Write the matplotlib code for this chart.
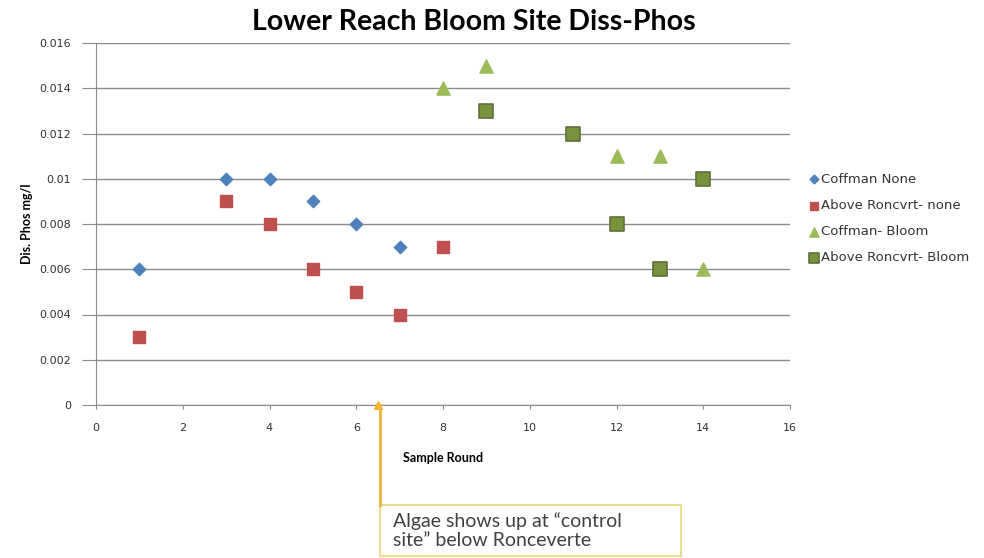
import matplotlib
matplotlib.use('Agg')
import matplotlib.pyplot as plt
from matplotlib.patches import Rectangle
from matplotlib.lines import Line2D

# --- dados ---
coff_none_x = [1, 3, 4, 5, 6, 7]
coff_none_y = [0.006, 0.010, 0.010, 0.009, 0.008, 0.007]
above_none_x = [1, 3, 4, 5, 6, 7, 8]
above_none_y = [0.003, 0.009, 0.008, 0.006, 0.005, 0.004, 0.007]
coff_bloom_x = [8, 9, 12, 13, 14]
coff_bloom_y = [0.014, 0.015, 0.011, 0.011, 0.006]
above_bloom_x = [9, 11, 12, 13, 14]
above_bloom_y = [0.013, 0.012, 0.008, 0.006, 0.010]
algae_round = 6.5
note = "Algae shows up at \u201ccontrol\nsite\u201d below Ronceverte"

W, H = 984, 558
fig = plt.figure(figsize=(W / 100, H / 100), dpi=100)
ax = fig.add_axes([96 / W, 1 - 405 / H, (790 - 96) / W, (405 - 43) / H])

ax.scatter(coff_none_x, coff_none_y, marker='D', s=40, color='#4F81BD', zorder=3, label='Coffman None')
ax.scatter(above_none_x, above_none_y, marker='s', s=80, color='#C0504D', zorder=3, label='Above Roncvrt- none')
ax.scatter(coff_bloom_x, coff_bloom_y, marker='^', s=90, color='#9BBB59', zorder=3, label='Coffman- Bloom')
ax.scatter(above_bloom_x, above_bloom_y, marker='s', s=110, color='#77933C', edgecolor='#5E6E3A', linewidth=1.2, zorder=3, label='Above Roncvrt- Bloom')

ax.set_xlim(0, 16)
ax.set_ylim(0, 0.016)
ax.set_xticks(range(0, 17, 2))
ax.set_yticks([i * 0.002 for i in range(9)])
ax.set_yticklabels(['0', '0.002', '0.004', '0.006', '0.008', '0.01', '0.012', '0.014', '0.016'])
ax.grid(axis='y', color='#8c8c8c', linewidth=1)
ax.grid(axis='x', visible=False)
ax.set_axisbelow(True)
for s in ['top', 'right']:
    ax.spines[s].set_visible(False)
for s in ['left', 'bottom']:
    ax.spines[s].set_color('#8c8c8c')
ax.tick_params(colors='#8c8c8c', labelcolor='#333333', labelsize=8)
ax.tick_params(axis='y', length=10, pad=8)
ax.tick_params(axis='x', length=3, pad=10)

ax.set_xlabel('Sample Round', fontfamily='Lato', fontweight='bold', fontsize=9, labelpad=14)
ax.set_ylabel('Dis. Phos mg/l', fontfamily='Lato', fontweight='bold', fontsize=9)
ax.yaxis.set_label_coords((33 - 96) / (790 - 96), 0.5)
fig.text(474 / W, 1 - 22 / H, 'Lower Reach Bloom Site Diss-Phos', ha='center', va='center',
         fontfamily='Lato', fontweight='bold', fontsize=20.5)

handles, labels = ax.get_legend_handles_labels()
fig.legend(handles, labels, loc='upper left', bbox_to_anchor=(795 / W, 1 - 161 / H), frameon=False,
           fontsize=9.5, handletextpad=0.0, labelspacing=1.0, handlelength=1.1, markerscale=0.7,
           labelcolor='#333333')

# anotação
ax.scatter([algae_round], [0], marker='^', s=30, color='#F5B324', zorder=4, clip_on=False)
box_left, box_top, box_right, box_bottom = 380, 505, 681, 556
fig.add_artist(Line2D([box_left / W, box_left / W], [1 - 405 / H, 1 - box_top / H], color='#F2B33A', linewidth=2))
fig.add_artist(Rectangle((box_left / W, 1 - box_bottom / H), (box_right - box_left) / W, (box_bottom - box_top) / H,
                         facecolor='white', edgecolor='#E6D679', linewidth=1.2))
fig.text(393 / W, 1 - 531 / H, note, ha='left', va='center', fontfamily='Lato', fontsize=14,
         color='#404040', linespacing=1.15)

fig.savefig('out.png', dpi=100)
